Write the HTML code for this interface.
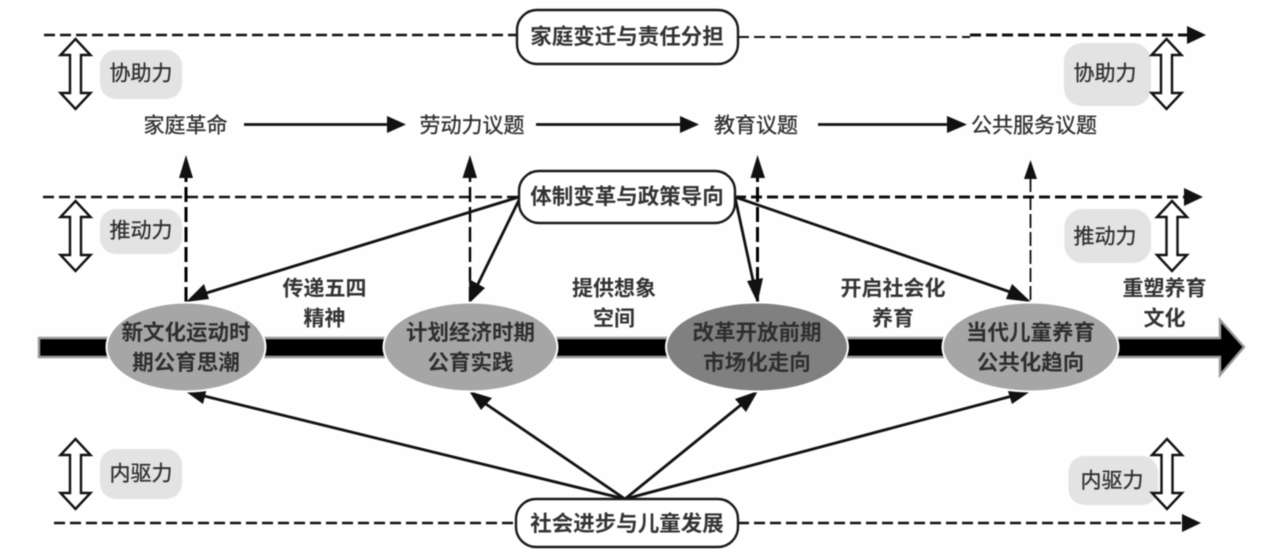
<!DOCTYPE html>
<html lang="zh">
<head>
<meta charset="utf-8">
<title>Diagram</title>
<style>
html,body{margin:0;padding:0;background:#fff;width:1278px;height:549px;overflow:hidden}
svg{display:block;filter:blur(.5px)}
text{font-family:"Liberation Sans","Noto Sans CJK SC",sans-serif;fill:#333;text-anchor:middle;dominant-baseline:central;font-size:21px}
.b{font-weight:bold;font-size:21px;fill:#333}
.e{font-weight:bold;font-size:21.500px;fill:#2e2e2e}
.m{font-size:21px;fill:#2e2e2e;stroke:#2e2e2e;stroke-width:.3px}
.box{fill:#fff;stroke:#1a1a1a;stroke-width:2.4}
.lab{fill:#e3e3e3}
.dash{stroke:#111;stroke-width:2.6;stroke-dasharray:11 5;fill:none}
.vd{stroke:#000;stroke-width:3;stroke-dasharray:15 5;fill:none}
.ln{stroke:#111;stroke-width:2.800;fill:none}
.head{fill:#111}
.dbl{fill:#fff;stroke:#111;stroke-width:2.400;stroke-linejoin:miter}
.el{stroke:#fff;stroke-width:2}
</style>
</head>
<body>
<svg width="1278" height="549" viewBox="0 0 1278 549" xmlns="http://www.w3.org/2000/svg">
<defs>
<path id="da" d="M0 0 L15 16 L5.500 16 L5.500 54 L15 54 L0 70 L-15 54 L-5.500 54 L-5.500 16 L-15 16 Z" class="dbl"/>
</defs>
<rect width="1278" height="549" fill="#fefefe"/>

<!-- horizontal dashed lines -->
<path class="dash" d="M44 35 H518"/>
<path class="dash" d="M738 37 H970" style="stroke-width:2"/>
<path class="dash" d="M970 35 H1190" style="stroke-width:3"/>
<path class="head" d="M1187 26 L1206 35 L1187 44 Z"/>
<path class="dash" d="M43 197 H520"/>
<path class="dash" d="M735 197 H1188" style="stroke-width:3"/>
<path class="head" d="M1184 188 L1203 197 L1184 206 Z"/>
<path class="dash" d="M54 523 H518"/>
<path class="dash" d="M738 523 H1186"/>
<path class="head" d="M1182 514 L1201 523 L1182 532 Z"/>

<!-- main bar -->
<path d="M39 338 H1220 V320 L1244 347 L1220 375 V357 H39 Z" fill="#000" stroke="#9a9a9a" stroke-width="2.4"/>

<!-- vertical dashed arrows -->
<path class="vd" d="M186 302 V174"/>
<path class="head" d="M186 155 L193 178 L179 178 Z"/>
<path class="vd" d="M470 302 V174" style="stroke-width:2.4"/>
<path class="head" d="M470 155 L477 178 L462.500 178 Z"/>
<path class="vd" d="M757.500 302 V174"/>
<path class="head" d="M757.500 155 L765 178 L750.500 178 Z"/>
<path class="vd" d="M1030.500 300 V178" style="stroke-width:1.700;stroke-dasharray:14 4"/>
<path class="head" d="M1030.500 160 L1037 179 L1024 179 Z"/>

<!-- upper solid arrows -->
<path class="ln" d="M519 197 L200 295"/>
<path class="head" d="M186 302 L204 284 L209 299 Z"/>
<path class="ln" d="M519 200 L476 288"/>
<path class="head" d="M469.500 303 L469 279 L485 288 Z"/>
<path class="ln" d="M735 197 L754 285"/>
<path class="head" d="M757.500 303 L747 281 L763 278 Z"/>
<path class="ln" d="M735 197 L1016 294"/>
<path class="head" d="M1031 302 L1006 299 L1012 284 Z"/>

<!-- topic arrows -->
<path class="ln" d="M244 124.500 H392"/>
<path class="head" d="M387 116 L406 124.500 L387 133 Z"/>
<path class="ln" d="M536 124.500 H685"/>
<path class="head" d="M680 116 L699 124.500 L680 133 Z"/>
<path class="ln" d="M818 124.500 H952"/>
<path class="head" d="M947 116 L967 124.500 L947 133 Z"/>

<!-- lower solid arrows -->
<path class="ln" d="M625 499 L200 395"/>
<path class="head" d="M185 391 L203 404 L207 388 Z"/>
<path class="ln" d="M625 499 L480 400"/>
<path class="head" d="M469 391 L481 410 L492 398 Z"/>
<path class="ln" d="M625 499 L747 400"/>
<path class="head" d="M758 391 L735 399 L746 412 Z"/>
<path class="ln" d="M625 499 L1016 395"/>
<path class="head" d="M1031 391 L1007 388 L1012 404 Z"/>

<!-- ellipses -->
<ellipse class="el" cx="186" cy="347" rx="79.500" ry="44.500" fill="#a6a6a6"/>
<ellipse class="el" cx="470.500" cy="347" rx="87" ry="44.500" fill="#a6a6a6"/>
<ellipse class="el" cx="757" cy="347" rx="91" ry="44.500" fill="#808080"/>
<ellipse class="el" cx="1030.500" cy="347" rx="88" ry="44.500" fill="#a6a6a6"/>

<text class="e" x="186" y="333">新文化运动时</text>
<text class="e" x="186" y="363">期公育思潮</text>
<text class="e" x="470.500" y="333">计划经济时期</text>
<text class="e" x="470.500" y="363">公育实践</text>
<text class="e" x="757" y="333">改革开放前期</text>
<text class="e" x="757" y="363">市场化走向</text>
<text class="e" x="1030.500" y="333">当代儿童养育</text>
<text class="e" x="1030.500" y="363">公共化趋向</text>

<!-- phase labels -->
<text class="b" x="324.500" y="289">传递五四</text>
<text class="b" x="324.500" y="319">精神</text>
<text class="b" x="614" y="289">提供想象</text>
<text class="b" x="614" y="319">空间</text>
<text class="b" x="893" y="289">开启社会化</text>
<text class="b" x="893" y="319">养育</text>
<text class="b" x="1164.500" y="289">重塑养育</text>
<text class="b" x="1164.500" y="319">文化</text>

<!-- main rounded boxes -->
<rect class="box" x="517" y="10" width="221" height="54" rx="20"/>
<text class="b" x="627" y="37" style="font-size:21.500px">家庭变迁与责任分担</text>
<rect class="box" x="519" y="171" width="216" height="52" rx="20"/>
<text class="b" x="627" y="197" style="font-size:21.500px">体制变革与政策导向</text>
<rect class="box" x="516" y="499" width="222" height="48" rx="20"/>
<text class="b" x="627" y="524" style="font-size:21.500px">社会进步与儿童发展</text>

<!-- topics -->
<text class="m" x="185.500" y="126">家庭革命</text>
<text class="m" x="472" y="126">劳动力议题</text>
<text class="m" x="756" y="126">教育议题</text>
<text class="m" x="1034" y="126">公共服务议题</text>

<!-- grey labels -->
<rect class="lab" x="100" y="50" width="82" height="49" rx="16"/>
<text class="m" x="141" y="74">协助力</text>
<rect class="lab" x="1064" y="43" width="87" height="63" rx="18"/>
<text class="m" x="1105" y="74">协助力</text>
<rect class="lab" x="100" y="209" width="82" height="45" rx="16"/>
<text class="m" x="141" y="231">推动力</text>
<rect class="lab" x="1064.500" y="209" width="86.500" height="54" rx="18"/>
<text class="m" x="1105" y="237">推动力</text>
<rect class="lab" x="100" y="449" width="82" height="50" rx="16"/>
<text class="m" x="141" y="474">内驱力</text>
<rect class="lab" x="1068.500" y="456" width="89.500" height="49" rx="16"/>
<text class="m" x="1112" y="481">内驱力</text>

<!-- double arrows -->
<use href="#da" x="75.500" y="39"/>
<use href="#da" x="1166.500" y="39"/>
<use href="#da" x="75.500" y="201"/>
<use href="#da" x="1172" y="201"/>
<use href="#da" x="75.500" y="439"/>
<use href="#da" x="1167" y="439"/>
</svg>
</body>
</html>
